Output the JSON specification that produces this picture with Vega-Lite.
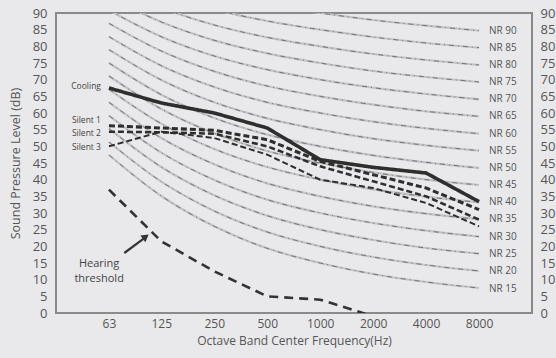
{
  "$schema": "https://vega.github.io/schema/vega-lite/v6.json",
  "width": 476,
  "height": 300,
  "autosize": "none",
  "padding": {"left": 56, "top": 13, "right": 24, "bottom": 45},
  "background": "#e9e9eb",
  "config": {
    "view": {"stroke": "#8a8a8a", "strokeWidth": 2, "fill": "#e9e9eb"},
    "font": "Open Sans"
  },
  "datasets": {
    "nr": [
      {"nr": 15, "freq": 63, "db": 47.4}, {"nr": 15, "freq": 125, "db": 35.1}, {"nr": 15, "freq": 250, "db": 26.0}, {"nr": 15, "freq": 500, "db": 19.4}, {"nr": 15, "freq": 1000, "db": 15}, {"nr": 15, "freq": 2000, "db": 11.7}, {"nr": 15, "freq": 4000, "db": 9.3}, {"nr": 15, "freq": 8000, "db": 7.5},
      {"nr": 20, "freq": 63, "db": 51.3}, {"nr": 20, "freq": 125, "db": 39.4}, {"nr": 20, "freq": 250, "db": 30.6}, {"nr": 20, "freq": 500, "db": 24.3}, {"nr": 20, "freq": 1000, "db": 20}, {"nr": 20, "freq": 2000, "db": 16.8}, {"nr": 20, "freq": 4000, "db": 14.4}, {"nr": 20, "freq": 8000, "db": 12.6},
      {"nr": 25, "freq": 63, "db": 55.3}, {"nr": 25, "freq": 125, "db": 43.8}, {"nr": 25, "freq": 250, "db": 35.3}, {"nr": 25, "freq": 500, "db": 29.2}, {"nr": 25, "freq": 1000, "db": 25}, {"nr": 25, "freq": 2000, "db": 21.9}, {"nr": 25, "freq": 4000, "db": 19.5}, {"nr": 25, "freq": 8000, "db": 17.8},
      {"nr": 30, "freq": 63, "db": 59.2}, {"nr": 30, "freq": 125, "db": 48.1}, {"nr": 30, "freq": 250, "db": 39.9}, {"nr": 30, "freq": 500, "db": 34.0}, {"nr": 30, "freq": 1000, "db": 30}, {"nr": 30, "freq": 2000, "db": 27.0}, {"nr": 30, "freq": 4000, "db": 24.7}, {"nr": 30, "freq": 8000, "db": 22.9},
      {"nr": 35, "freq": 63, "db": 63.2}, {"nr": 35, "freq": 125, "db": 52.5}, {"nr": 35, "freq": 250, "db": 44.6}, {"nr": 35, "freq": 500, "db": 38.9}, {"nr": 35, "freq": 1000, "db": 35}, {"nr": 35, "freq": 2000, "db": 32.0}, {"nr": 35, "freq": 4000, "db": 29.8}, {"nr": 35, "freq": 8000, "db": 28.1},
      {"nr": 40, "freq": 63, "db": 67.1}, {"nr": 40, "freq": 125, "db": 56.8}, {"nr": 40, "freq": 250, "db": 49.2}, {"nr": 40, "freq": 500, "db": 43.8}, {"nr": 40, "freq": 1000, "db": 40}, {"nr": 40, "freq": 2000, "db": 37.1}, {"nr": 40, "freq": 4000, "db": 34.9}, {"nr": 40, "freq": 8000, "db": 33.2},
      {"nr": 45, "freq": 63, "db": 71.1}, {"nr": 45, "freq": 125, "db": 61.2}, {"nr": 45, "freq": 250, "db": 53.9}, {"nr": 45, "freq": 500, "db": 48.6}, {"nr": 45, "freq": 1000, "db": 45}, {"nr": 45, "freq": 2000, "db": 42.2}, {"nr": 45, "freq": 4000, "db": 40.0}, {"nr": 45, "freq": 8000, "db": 38.4},
      {"nr": 50, "freq": 63, "db": 75.0}, {"nr": 50, "freq": 125, "db": 65.5}, {"nr": 50, "freq": 250, "db": 58.5}, {"nr": 50, "freq": 500, "db": 53.5}, {"nr": 50, "freq": 1000, "db": 50}, {"nr": 50, "freq": 2000, "db": 47.3}, {"nr": 50, "freq": 4000, "db": 45.2}, {"nr": 50, "freq": 8000, "db": 43.5},
      {"nr": 55, "freq": 63, "db": 79.0}, {"nr": 55, "freq": 125, "db": 69.9}, {"nr": 55, "freq": 250, "db": 63.2}, {"nr": 55, "freq": 500, "db": 58.4}, {"nr": 55, "freq": 1000, "db": 55}, {"nr": 55, "freq": 2000, "db": 52.3}, {"nr": 55, "freq": 4000, "db": 50.3}, {"nr": 55, "freq": 8000, "db": 48.7},
      {"nr": 60, "freq": 63, "db": 82.9}, {"nr": 60, "freq": 125, "db": 74.2}, {"nr": 60, "freq": 250, "db": 67.8}, {"nr": 60, "freq": 500, "db": 63.2}, {"nr": 60, "freq": 1000, "db": 60}, {"nr": 60, "freq": 2000, "db": 57.4}, {"nr": 60, "freq": 4000, "db": 55.4}, {"nr": 60, "freq": 8000, "db": 53.8},
      {"nr": 65, "freq": 63, "db": 86.9}, {"nr": 65, "freq": 125, "db": 78.6}, {"nr": 65, "freq": 250, "db": 72.5}, {"nr": 65, "freq": 500, "db": 68.1}, {"nr": 65, "freq": 1000, "db": 65}, {"nr": 65, "freq": 2000, "db": 62.5}, {"nr": 65, "freq": 4000, "db": 60.5}, {"nr": 65, "freq": 8000, "db": 59.0},
      {"nr": 70, "freq": 63, "db": 90.8}, {"nr": 70, "freq": 125, "db": 82.9}, {"nr": 70, "freq": 250, "db": 77.1}, {"nr": 70, "freq": 500, "db": 73.0}, {"nr": 70, "freq": 1000, "db": 70}, {"nr": 70, "freq": 2000, "db": 67.6}, {"nr": 70, "freq": 4000, "db": 65.7}, {"nr": 70, "freq": 8000, "db": 64.1},
      {"nr": 75, "freq": 63, "db": 94.8}, {"nr": 75, "freq": 125, "db": 87.3}, {"nr": 75, "freq": 250, "db": 81.8}, {"nr": 75, "freq": 500, "db": 77.9}, {"nr": 75, "freq": 1000, "db": 75}, {"nr": 75, "freq": 2000, "db": 72.6}, {"nr": 75, "freq": 4000, "db": 70.8}, {"nr": 75, "freq": 8000, "db": 69.3},
      {"nr": 80, "freq": 63, "db": 98.7}, {"nr": 80, "freq": 125, "db": 91.6}, {"nr": 80, "freq": 250, "db": 86.4}, {"nr": 80, "freq": 500, "db": 82.7}, {"nr": 80, "freq": 1000, "db": 80}, {"nr": 80, "freq": 2000, "db": 77.7}, {"nr": 80, "freq": 4000, "db": 75.9}, {"nr": 80, "freq": 8000, "db": 74.4},
      {"nr": 85, "freq": 63, "db": 102.7}, {"nr": 85, "freq": 125, "db": 96.0}, {"nr": 85, "freq": 250, "db": 91.1}, {"nr": 85, "freq": 500, "db": 87.6}, {"nr": 85, "freq": 1000, "db": 85}, {"nr": 85, "freq": 2000, "db": 82.8}, {"nr": 85, "freq": 4000, "db": 81.0}, {"nr": 85, "freq": 8000, "db": 79.6},
      {"nr": 90, "freq": 63, "db": 106.6}, {"nr": 90, "freq": 125, "db": 100.3}, {"nr": 90, "freq": 250, "db": 95.7}, {"nr": 90, "freq": 500, "db": 92.5}, {"nr": 90, "freq": 1000, "db": 90}, {"nr": 90, "freq": 2000, "db": 87.9}, {"nr": 90, "freq": 4000, "db": 86.2}, {"nr": 90, "freq": 8000, "db": 84.7}
    ],
    "nrlab": [
      {"freq": 8000, "db": 84.7, "label": "NR 90"}, {"freq": 8000, "db": 79.6, "label": "NR 85"}, {"freq": 8000, "db": 74.4, "label": "NR 80"}, {"freq": 8000, "db": 69.3, "label": "NR 75"},
      {"freq": 8000, "db": 64.1, "label": "NR 70"}, {"freq": 8000, "db": 59.0, "label": "NR 65"}, {"freq": 8000, "db": 53.8, "label": "NR 60"}, {"freq": 8000, "db": 48.7, "label": "NR 55"},
      {"freq": 8000, "db": 43.5, "label": "NR 50"}, {"freq": 8000, "db": 38.4, "label": "NR 45"}, {"freq": 8000, "db": 33.2, "label": "NR 40"}, {"freq": 8000, "db": 28.1, "label": "NR 35"},
      {"freq": 8000, "db": 22.9, "label": "NR 30"}, {"freq": 8000, "db": 17.8, "label": "NR 25"}, {"freq": 8000, "db": 12.6, "label": "NR 20"}, {"freq": 8000, "db": 7.2, "label": "NR 15"}
    ],
    "meas": [
      {"series": "Cooling", "freq": 63, "db": 67.5}, {"series": "Cooling", "freq": 125, "db": 63.0}, {"series": "Cooling", "freq": 250, "db": 60.0}, {"series": "Cooling", "freq": 500, "db": 55.5}, {"series": "Cooling", "freq": 1000, "db": 46.0}, {"series": "Cooling", "freq": 2000, "db": 43.7}, {"series": "Cooling", "freq": 4000, "db": 42.0}, {"series": "Cooling", "freq": 8000, "db": 33.4},
      {"series": "Silent 1", "freq": 63, "db": 56.2}, {"series": "Silent 1", "freq": 125, "db": 55.5}, {"series": "Silent 1", "freq": 250, "db": 54.8}, {"series": "Silent 1", "freq": 500, "db": 52.0}, {"series": "Silent 1", "freq": 1000, "db": 45.5}, {"series": "Silent 1", "freq": 2000, "db": 41.5}, {"series": "Silent 1", "freq": 4000, "db": 37.5}, {"series": "Silent 1", "freq": 8000, "db": 31.0},
      {"series": "Silent 2", "freq": 63, "db": 54.4}, {"series": "Silent 2", "freq": 125, "db": 54.2}, {"series": "Silent 2", "freq": 250, "db": 53.8}, {"series": "Silent 2", "freq": 500, "db": 50.0}, {"series": "Silent 2", "freq": 1000, "db": 44.0}, {"series": "Silent 2", "freq": 2000, "db": 39.5}, {"series": "Silent 2", "freq": 4000, "db": 35.0}, {"series": "Silent 2", "freq": 8000, "db": 28.0},
      {"series": "Silent 3", "freq": 63, "db": 50.0}, {"series": "Silent 3", "freq": 125, "db": 54.4}, {"series": "Silent 3", "freq": 250, "db": 52.5}, {"series": "Silent 3", "freq": 500, "db": 47.5}, {"series": "Silent 3", "freq": 1000, "db": 40.0}, {"series": "Silent 3", "freq": 2000, "db": 37.5}, {"series": "Silent 3", "freq": 4000, "db": 33.0}, {"series": "Silent 3", "freq": 8000, "db": 26.0}
    ],
    "serlab": [
      {"freq": 63, "db": 68.2, "label": "Cooling"},
      {"freq": 63, "db": 58.0, "label": "Silent 1"},
      {"freq": 63, "db": 54.1, "label": "Silent 2"},
      {"freq": 63, "db": 49.7, "label": "Silent 3"}
    ],
    "hear": [
      {"freq": 63, "db": 37.0}, {"freq": 125, "db": 21.5}, {"freq": 250, "db": 12.5}, {"freq": 500, "db": 5.0}, {"freq": 1000, "db": 4.0}, {"freq": 2000, "db": -1.0}
    ],
    "hearlab": [{"freq": 55.4, "db": 14.6, "label": "Hearing\nthreshold"}],
    "arrow": [{"freq": 77, "db": 18.0}, {"freq": 101, "db": 22.6}],
    "arrowhead": [{"freq": 102, "db": 22.9}]
  },
  "encoding": {
    "x": {
      "field": "freq", "type": "quantitative",
      "scale": {"type": "log", "base": 2, "domain": [31.5, 16000], "nice": false, "zero": false},
      "axis": {
        "values": [63, 125, 250, 500, 1000, 2000, 4000, 8000], "format": "d",
        "title": "Octave Band Center Frequency(Hz)",
        "domain": false, "ticks": false, "grid": false,
        "labelFontSize": 12, "labelColor": "#555", "labelPadding": 5, "labelFont": "Open Sans",
        "titleFontSize": 12, "titleColor": "#555", "titleFontWeight": "normal", "titlePadding": 6, "titleFont": "Open Sans"
      }
    },
    "y": {"field": "db", "type": "quantitative", "scale": {"domain": [0, 90], "nice": false}, "axis": null}
  },
  "resolve": {"axis": {"y": "independent"}},
  "layer": [
    {
      "data": {"name": "nr"},
      "mark": {"type": "line", "clip": true, "color": "#c3c3c6", "strokeWidth": 2.2, "interpolate": "monotone"},
      "encoding": {
        "detail": {"field": "nr", "type": "nominal"},
        "y": {
          "field": "db", "type": "quantitative", "scale": {"domain": [0, 90], "nice": false},
          "axis": {
            "orient": "left", "values": [0,5,10,15,20,25,30,35,40,45,50,55,60,65,70,75,80,85,90],
            "title": "Sound Pressure Level (dB)", "domain": false, "ticks": false, "grid": false,
            "labelFontSize": 13, "labelColor": "#555", "labelPadding": 9, "labelFont": "Open Sans",
            "titleFontSize": 12.5, "titleColor": "#555", "titleFontWeight": "normal", "titlePadding": 10, "titleFont": "Open Sans"
          }
        }
      }
    },
    {
      "data": {"name": "nr"},
      "mark": {"type": "line", "clip": true, "color": "#505050", "strokeWidth": 0.7, "strokeDash": [5, 4, 1, 4], "interpolate": "monotone"},
      "encoding": {
        "detail": {"field": "nr", "type": "nominal"},
        "y": {
          "field": "db", "type": "quantitative", "scale": {"domain": [0, 90], "nice": false},
          "axis": {
            "orient": "right", "values": [0,5,10,15,20,25,30,35,40,45,50,55,60,65,70,75,80,85,90],
            "title": null, "domain": false, "ticks": false, "grid": false,
            "labelFontSize": 13, "labelColor": "#555", "labelPadding": 8, "labelFont": "Open Sans"
          }
        }
      }
    },
    {
      "data": {"name": "nrlab"},
      "mark": {"type": "text", "align": "left", "baseline": "middle", "dx": 10, "fontSize": 10, "color": "#555", "font": "Open Sans"},
      "encoding": {"text": {"field": "label", "type": "nominal"}}
    },
    {
      "data": {"name": "hear"},
      "mark": {"type": "line", "clip": true, "color": "#333", "strokeWidth": 2.6, "strokeDash": [9, 6]},
      "encoding": {}
    },
    {
      "data": {"name": "meas"},
      "mark": {"type": "line", "clip": true, "color": "#2e2e2e"},
      "encoding": {
        "detail": {"field": "series", "type": "nominal"},
        "strokeDash": {"field": "series", "type": "nominal", "scale": {"domain": ["Cooling", "Silent 1", "Silent 2", "Silent 3"], "range": [[1, 0], [6, 3], [6, 3], [6, 3]]}, "legend": null},
        "strokeWidth": {"field": "series", "type": "nominal", "scale": {"domain": ["Cooling", "Silent 1", "Silent 2", "Silent 3"], "range": [3.6, 2, 2, 2]}, "legend": null}
      }
    },
    {
      "data": {"name": "serlab"},
      "mark": {"type": "text", "align": "right", "baseline": "middle", "dx": -8, "fontSize": 8.5, "color": "#444", "font": "Open Sans"},
      "encoding": {"text": {"field": "label", "type": "nominal"}}
    },
    {
      "data": {"name": "hearlab"},
      "mark": {"type": "text", "align": "center", "baseline": "middle", "fontSize": 11, "color": "#444", "font": "Open Sans", "lineBreak": "\n", "lineHeight": 15},
      "encoding": {"text": {"field": "label", "type": "nominal"}}
    },
    {
      "data": {"name": "arrow"},
      "mark": {"type": "line", "color": "#333", "strokeWidth": 2.2},
      "encoding": {}
    },
    {
      "data": {"name": "arrowhead"},
      "mark": {"type": "point", "shape": "triangle-up", "filled": true, "color": "#333", "size": 70, "angle": 53, "opacity": 1},
      "encoding": {}
    }
  ]
}
